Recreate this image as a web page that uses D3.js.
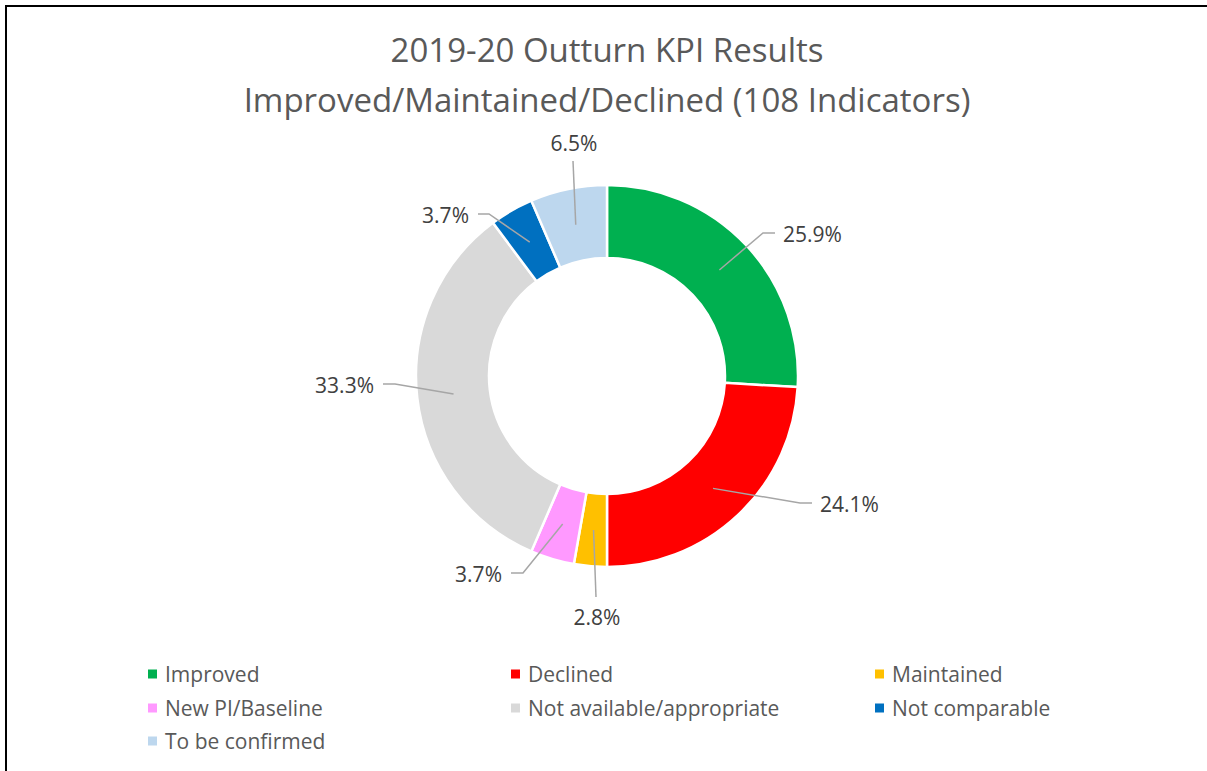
<!DOCTYPE html>
<html>
<head>
<meta charset="utf-8">
<script src="https://cdn.jsdelivr.net/npm/d3@7"></script>
<style>
  body { margin: 0; background: #fff; }
  svg { display: block; font-family: "Open Sans", sans-serif; }
</style>
</head>
<body>
<svg id="chart" width="1207" height="771"></svg>
<script>
const titleLines = ['2019-20 Outturn KPI Results', 'Improved/Maintained/Declined (108 Indicators)'];
const categories = ['Improved', 'Declined', 'Maintained', 'New PI/Baseline',
  'Not available/appropriate', 'Not comparable', 'To be confirmed'];
const counts = [28, 26, 3, 4, 36, 4, 7];
const colors = ['#00b050', '#ff0000', '#ffc000', '#ff99ff', '#d9d9d9', '#0070c0', '#bdd7ee'];

// where Excel put each label's leader elbow, relative to the donut centre
const labelLayout = [
  { dx: 156, dy: -143, h: 12 },
  { dx: 193, dy: 127, h: 12 },
  { dx: -11, dy: 221, h: 0 },
  { dx: -84, dy: 197, h: -12 },
  { dx: -212, dy: 8, h: -12 },
  { dx: -118, dy: -162, h: -11 },
  { dx: -34, dy: -215, h: 0 }
];

const svg = d3.select('#chart');
const cx = 607, cy = 376;
const outerR = 191, innerR = 118;
const total = d3.sum(counts);

// frame
svg.append('path')
  .attr('d', 'M6,771 V6 H1207')
  .attr('fill', 'none')
  .attr('stroke', '#000')
  .attr('stroke-width', 2);

svg.selectAll('text.title')
  .data(titleLines)
  .join('text')
  .attr('class', 'title')
  .attr('x', cx)
  .attr('y', (d, i) => 49 + i * 50)
  .attr('text-anchor', 'middle')
  .attr('dominant-baseline', 'central')
  .attr('fill', '#595959')
  .attr('font-size', 33)
  .text((d) => d);

const data = categories.map((c, i) => ({ name: c, value: counts[i], color: colors[i], layout: labelLayout[i] }));
const pie = d3.pie().sort(null).value((d) => d.value);
const arc = d3.arc().innerRadius(innerR).outerRadius(outerR);
const arcs = pie(data);

const g = svg.append('g').attr('transform', `translate(${cx},${cy})`);

g.selectAll('path.slice')
  .data(arcs)
  .join('path')
  .attr('class', 'slice')
  .attr('d', arc)
  .attr('fill', (d) => d.data.color)
  .attr('stroke', '#fff')
  .attr('stroke-width', 2.5);

g.selectAll('polyline')
  .data(arcs)
  .join('polyline')
  .attr('fill', 'none')
  .attr('stroke', '#a6a6a6')
  .attr('stroke-width', 1.5)
  .attr('points', (d) => {
    const c = arc.centroid(d);
    const l = d.data.layout;
    return [c, [l.dx, l.dy], [l.dx + l.h, l.dy]].map((p) => p.join(',')).join(' ');
  });

g.selectAll('text.label')
  .data(arcs)
  .join('text')
  .attr('class', 'label')
  .attr('x', (d) => {
    const l = d.data.layout;
    if (l.h === 0) return l.dx + 1;
    return l.dx + l.h + (l.h > 0 ? 8 : -9);
  })
  .attr('y', (d) => {
    const l = d.data.layout;
    if (l.h === 0) return l.dy + (l.dy > 0 ? 20 : -18);
    return l.dy + 1;
  })
  .attr('text-anchor', (d) => {
    const l = d.data.layout;
    return l.h === 0 ? 'middle' : (l.h > 0 ? 'start' : 'end');
  })
  .attr('dominant-baseline', 'central')
  .attr('fill', '#404040')
  .attr('font-size', 21)
  .text((d) => (d.data.value / total * 100).toFixed(1) + '%');

// legend: 3 columns
const colX = [148, 511, 875];
const rowY = [674, 708, 741];
const legend = svg.selectAll('g.legend')
  .data(data)
  .join('g')
  .attr('class', 'legend')
  .attr('transform', (d, i) => `translate(${colX[i % 3]},${rowY[Math.floor(i / 3)]})`);

legend.append('rect')
  .attr('x', 0)
  .attr('y', -4.5)
  .attr('width', 9)
  .attr('height', 9)
  .attr('fill', (d) => d.color);

legend.append('text')
  .attr('x', 17)
  .attr('y', 0)
  .attr('dominant-baseline', 'central')
  .attr('fill', '#595959')
  .attr('font-size', 21)
  .text((d) => d.name);
</script>
</body>
</html>
